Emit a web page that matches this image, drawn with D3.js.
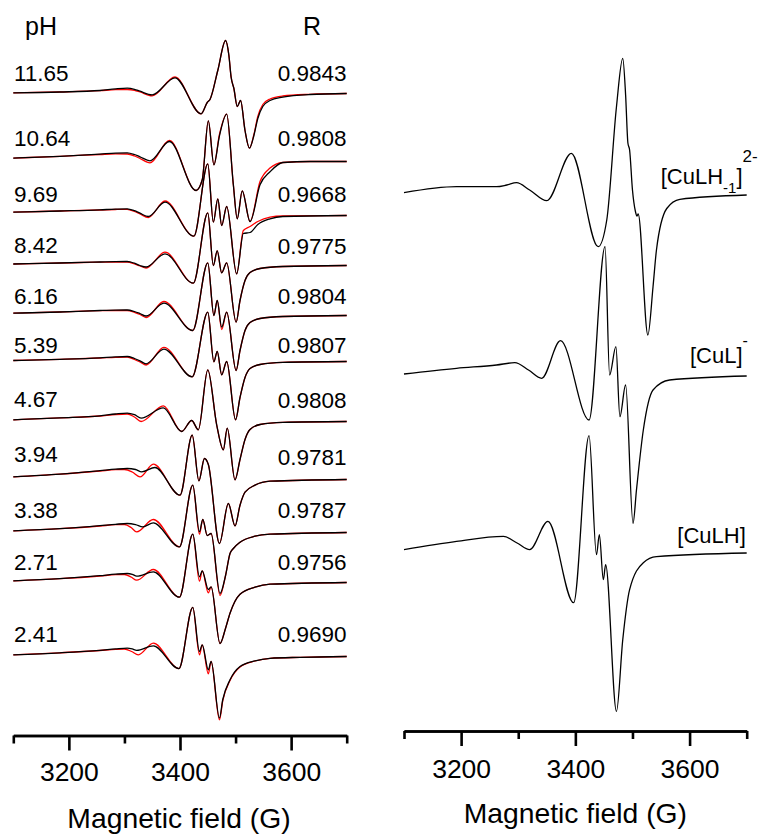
<!DOCTYPE html>
<html><head><meta charset="utf-8">
<script src="https://cdn.jsdelivr.net/npm/d3@7"></script>
<style>
body{margin:0;background:#fff}
svg{display:block}
text{font-family:"Liberation Sans",Arial,Helvetica,sans-serif;fill:#000}
</style>
</head><body>
<svg id="chart" width="766" height="834"></svg>
<script>
// ---------------- DATA ----------------
const fieldDomain = [3100, 3700];
const majorTicks = [3200, 3400, 3600];
const minorTicks = [3100, 3300, 3500, 3700];
const axisTitle = "Magnetic field (G)";

const pHValues = ["11.65", "10.64", "9.69", "8.42", "6.16", "5.39", "4.67", "3.94", "3.38", "2.71", "2.41"];
const RValues  = ["0.9843", "0.9808", "0.9668", "0.9775", "0.9804", "0.9807", "0.9808", "0.9781", "0.9787", "0.9756", "0.9690"];
const stackOffsets = [642, 574, 520, 470, 420, 374, 314, 256, 203, 153, 79];

// measured (black) and simulated (red) spectra: [field G, intensity a.u.]
const exp_1165 = [[3100,0.7],[3184,1.5],[3256,3],[3284,4.6],[3305,5.3],[3318,4.2],[3328,2.3],[3350,-1.3],[3391,15.7],[3438,-20.3],[3449,-9],[3454,-6],[3468,23],[3482,53],[3488,38],[3492,16.3],[3497,5],[3503,-13],[3509,-7],[3517,-37],[3525,-54.7],[3533,-42],[3540,-25],[3549,-13],[3562,-7],[3585,-3.7],[3634,-1],[3700,0]];
const sim_1165 = [[3100,0.7],[3184,1.5],[3256,2.8],[3284,3.8],[3305,4],[3318,3.2],[3328,1.5],[3350,-2.3],[3391,16.5],[3438,-20.3],[3449,-9],[3454,-6],[3468,23],[3482,53],[3488,38],[3492,16.3],[3497,5],[3503,-13],[3509,-7],[3517,-37],[3525,-54.7],[3533,-41],[3540,-23],[3549,-11],[3562,-5.5],[3585,-2.5],[3634,-0.8],[3700,0]];

const exp_1064 = [[3100,3.4],[3184,5.2],[3256,7.4],[3284,8.4],[3305,8.7],[3318,7],[3328,4.7],[3346,0.7],[3381,20],[3429,-29],[3440,-18.3],[3451,40.7],[3461,-3.3],[3471,25.7],[3484,47.4],[3496,-23.3],[3503,-57.3],[3512,-29.3],[3526,-60],[3544,-23.3],[3562,-10.3],[3585,-1],[3634,0],[3700,0]];
const sim_1064 = [[3100,3.4],[3184,5.2],[3256,7],[3284,7.6],[3305,7.5],[3318,5.6],[3328,3],[3346,-1.3],[3381,21],[3429,-29],[3440,-18.3],[3451,40.7],[3461,-3.3],[3471,27],[3484,47.4],[3496,-23.3],[3503,-57.3],[3512,-29.3],[3526,-60],[3544,-20],[3562,-6.6],[3585,-1],[3634,0],[3700,0]];

const exp_969 = [[3100,3.3],[3184,4.5],[3256,5.7],[3284,6.4],[3305,6.7],[3318,4.8],[3328,2.3],[3343,-1],[3373,13.3],[3425,-20.7],[3450,51.7],[3460,-6.7],[3468,16.7],[3475,-10],[3484,9],[3502,-58.3],[3514,-18],[3526,-17],[3540,-9],[3562,-3.3],[3585,-1],[3700,0]];
const sim_969 = [[3100,3.3],[3184,4.5],[3256,5.5],[3284,6],[3305,6.2],[3318,4],[3328,1.5],[3343,-2],[3373,14.5],[3425,-20.7],[3450,51.7],[3460,-6.7],[3468,16.7],[3475,-10],[3484,9],[3502,-58.3],[3514,-15],[3526,-11],[3540,-6],[3562,-1.7],[3585,-0.5],[3700,0]];

const exp_842 = [[3100,1.5],[3184,2.5],[3256,3.5],[3284,3.9],[3305,4],[3318,2.3],[3328,0],[3339,-1.5],[3373,11.7],[3424,-17.7],[3450,52.7],[3460,0],[3467,14.7],[3475,-7.3],[3484,2.7],[3501,-56.7],[3508,-35],[3517,-15],[3526,-7],[3544,-3],[3585,-1],[3700,0]];
const sim_842 = [[3100,1.5],[3184,2.5],[3256,3.3],[3284,3.5],[3305,3.5],[3318,1.6],[3328,-0.5],[3339,-2.5],[3373,13.3],[3424,-17.7],[3450,52.7],[3460,0],[3467,14.7],[3475,-7.3],[3484,2.7],[3501,-56.7],[3508,-35],[3517,-15],[3526,-7],[3544,-3],[3585,-1],[3700,0]];

const exp_616 = [[3100,2.3],[3184,3.5],[3256,5],[3284,5.4],[3305,5.5],[3318,4],[3328,2],[3339,-0.5],[3371,12.3],[3423,-15],[3450,52.7],[3461,0],[3467,15],[3475,-11.7],[3484,3.3],[3501,-55],[3508,-35],[3517,-15],[3526,-7],[3544,-3],[3585,-1],[3700,0]];
const sim_616 = [[3100,2.3],[3184,3.5],[3256,4.8],[3284,5],[3305,5],[3318,3.2],[3328,1],[3339,-2],[3371,14],[3423,-15],[3450,52.7],[3461,0],[3467,15],[3475,-14],[3484,3.3],[3501,-55],[3508,-35],[3517,-15],[3526,-7],[3544,-3],[3585,-1],[3700,0]];

const exp_539 = [[3100,1],[3184,2.2],[3256,3.7],[3284,4.6],[3305,5],[3318,3],[3328,0.7],[3339,-2.3],[3371,12.4],[3422,-15.3],[3450,49.4],[3461,-0.3],[3467,10],[3475,-13.3],[3484,0],[3500,-58.3],[3508,-36],[3517,-16],[3526,-7],[3544,-3],[3585,-0.8],[3700,0]];
const sim_539 = [[3100,1],[3184,2.2],[3256,3.5],[3284,4.2],[3305,4.5],[3318,2],[3328,-0.5],[3339,-3.5],[3371,14.2],[3422,-15.3],[3450,49.4],[3461,-0.3],[3467,10],[3475,-13.3],[3484,0],[3500,-58.3],[3508,-36],[3517,-16],[3526,-7],[3544,-3],[3585,-0.8],[3700,0]];

const exp_467 = [[3100,1.7],[3184,3.7],[3256,5.7],[3284,7.5],[3305,8.4],[3318,6.8],[3330,3.4],[3370,13.7],[3403,-10],[3421,1],[3433,-8.3],[3450,51.7],[3466,-3.3],[3478,-28.3],[3485,-6.6],[3499,-58.3],[3508,-38],[3517,-18],[3526,-8],[3544,-3],[3585,-0.8],[3700,0]];
const sim_467 = [[3100,1.7],[3184,3.7],[3256,5.5],[3284,7],[3305,7.5],[3318,4.5],[3330,0],[3370,15.7],[3403,-10],[3421,1],[3433,-8.3],[3450,51.7],[3466,-3.3],[3478,-28.3],[3485,-6.6],[3499,-58.3],[3508,-38],[3517,-18],[3526,-8],[3544,-3],[3585,-0.8],[3700,0]];

const exp_394 = [[3100,2.6],[3184,5.3],[3256,8.8],[3284,10.3],[3305,11],[3320,10],[3331,7.6],[3355,12],[3400,-15.7],[3422,44.3],[3434,-1.4],[3444,21],[3451,15],[3471,-64],[3487,-24],[3499,-46.4],[3508,-25.7],[3517,-12.7],[3535,-5.7],[3562,-1.7],[3700,0]];
const sim_394 = [[3100,2.6],[3184,5.3],[3256,8.5],[3284,9.8],[3300,10],[3314,7.5],[3328,2.6],[3352,15.3],[3400,-15.7],[3422,44.3],[3434,-1.4],[3444,21],[3451,15],[3471,-64],[3487,-24],[3499,-46.4],[3508,-25.7],[3517,-12.7],[3535,-5.7],[3562,-1.7],[3700,0]];

const exp_338 = [[3100,1.6],[3184,3.8],[3256,6.8],[3284,8.2],[3305,9],[3320,7.9],[3333,5.6],[3352,9.6],[3399,-14.4],[3423,47.3],[3435,0.6],[3441,13],[3449,-3],[3456,-1],[3472,-61],[3482,-43],[3490,-21],[3496,-16],[3508,-9.7],[3535,-3.7],[3562,-1.7],[3700,0]];
const sim_338 = [[3100,1.6],[3184,3.8],[3256,6.5],[3284,7.8],[3300,8],[3312,5],[3322,0.6],[3352,13],[3399,-14.4],[3423,47.3],[3435,-1.7],[3441,13],[3449,-3],[3456,-1],[3472,-63],[3482,-43],[3490,-21],[3496,-16],[3508,-9.7],[3535,-3.7],[3562,-1.7],[3700,0]];

const exp_271 = [[3100,1.6],[3184,3.8],[3256,6.8],[3284,8.3],[3305,9],[3314,8.2],[3322,6.3],[3352,10.6],[3399,-14.7],[3423,48.3],[3435,5.6],[3440,11.6],[3451,-7],[3456,-4.4],[3472,-61],[3482,-45.7],[3490,-30.7],[3508,-11.7],[3535,-4.7],[3562,-1.7],[3700,0]];
const sim_271 = [[3100,1.6],[3184,3.8],[3256,6.5],[3284,7.8],[3300,8],[3312,5.5],[3322,2.3],[3352,13],[3399,-14.7],[3423,48.3],[3435,1.3],[3440,11.6],[3451,-10.4],[3456,-4.4],[3472,-61],[3482,-45.7],[3490,-30.7],[3508,-11.7],[3535,-4.7],[3562,-1.7],[3700,0]];

const exp_241 = [[3100,1.7],[3184,3.7],[3256,6.2],[3284,7.6],[3305,8.4],[3314,7.6],[3322,6.2],[3352,10.7],[3398,-12.1],[3423,49.2],[3435,5],[3440,11.7],[3451,-13.3],[3456,-5],[3471,-61.6],[3477,-43],[3490,-23.3],[3508,-10],[3535,-4.3],[3562,-1.8],[3616,-0.8],[3700,0]];
const sim_241 = [[3100,1.7],[3184,3.7],[3256,6],[3284,7.2],[3300,7.5],[3313,5],[3325,1.7],[3352,13.4],[3398,-12.1],[3423,49.2],[3435,1.7],[3440,11.7],[3451,-17.3],[3456,-5],[3471,-63.3],[3477,-44],[3490,-24],[3508,-10.5],[3535,-4.5],[3562,-1.8],[3616,-0.8],[3700,0]];

// Right panel: simulated spectra of individual species
const speciesOffsets = [536, 355, 178];
const sp_CuLH_1 = [[3100,2.3],[3192,8.3],[3262,8.3],[3280,10],[3297,12.3],[3320,5],[3350,-5.7],[3393,41.7],[3440,-51.7],[3455,-25],[3472,88.3],[3483,136.7],[3488,100],[3492,52],[3495,45],[3500,5],[3505,-16],[3508,-21],[3510,-19],[3527,-140],[3536,-91.7],[3542,-55],[3560,-13.5],[3583,-4.3],[3700,0]];
const sp_CuL = [[3100,2],[3192,7.7],[3262,11],[3294,13.3],[3318,6],[3341,-2.3],[3374,35.3],[3424,-44],[3452,129.3],[3460,1],[3471,29.3],[3478,-40.7],[3488,-9],[3501,-147.3],[3507,-114],[3519,-54],[3536,-14],[3565,-4],[3700,0]];
const sp_CuLH = [[3100,3.3],[3192,11.6],[3274,16.6],[3298,10],[3320,3.3],[3352,31.6],[3397,-49.7],[3424,117.3],[3437,-1.7],[3442,18.3],[3449,-26.7],[3453,-11.7],[3472,-158.4],[3483,-86.7],[3495,-36.7],[3519,-9.7],[3542,-3.7],[3700,0]];

const measured = [exp_1165, exp_1064, exp_969, exp_842, exp_616, exp_539, exp_467, exp_394, exp_338, exp_271, exp_241];
const simulated = [sim_1165, sim_1064, sim_969, sim_842, sim_616, sim_539, sim_467, sim_394, sim_338, sim_271, sim_241];
const speciesSpectra = [sp_CuLH_1, sp_CuL, sp_CuLH];

// ---------------- LAYOUT ----------------
const svg = d3.select("#chart");
const FONT = '"Liberation Sans",Arial,Helvetica,sans-serif';

const xL = d3.scaleLinear().domain(fieldDomain).range([13.3, 346.7]);
const xR = d3.scaleLinear().domain(fieldDomain).range([404, 746.7]);
const yL = d3.scaleLinear().domain([0, 700]).range([735.5, 35.5]);
const yR = d3.scaleLinear().domain([0, 700]).range([731, 31]);

function spectrum(g, x, y, data, off, color, w) {
  const line = d3.line()
    .x(d => x(d[0]))
    .y(d => y(d[1] + off))
    .curve(d3.curveMonotoneX);
  g.append("path").attr("d", line(data))
    .attr("fill", "none").attr("stroke", color)
    .attr("stroke-width", w).attr("stroke-linejoin", "round");
}

const gL = svg.append("g");
simulated.forEach((s, i) => spectrum(gL, xL, yL, s, stackOffsets[i], "#ff0000", 1.3));
measured.forEach((s, i) => spectrum(gL, xL, yL, s, stackOffsets[i], "#000", 1.3));

const gR = svg.append("g");
speciesSpectra.forEach((s, i) => spectrum(gR, xR, yR, s, speciesOffsets[i], "#000", 1.3));

function drawAxis(x, yPos, labelShift) {
  const g = svg.append("g").attr("transform", `translate(0,${yPos})`);
  g.call(d3.axisBottom(x).tickValues(minorTicks).tickSize(8).tickSizeOuter(0).tickFormat(""));
  const g2 = svg.append("g").attr("transform", `translate(0,${yPos})`);
  g2.call(d3.axisBottom(x).tickValues(majorTicks).tickSize(15).tickSizeOuter(0).tickFormat(d3.format("d")));
  [g, g2].forEach(gg => {
    gg.select(".domain").attr("stroke", "#000").attr("stroke-width", 2.6);
    gg.selectAll(".tick line").attr("stroke", "#000").attr("stroke-width", 2.6);
  });
  g2.selectAll(".tick text")
    .attr("y", labelShift).attr("dy", 0)
    .style("font-family", FONT).style("font-size", "26.5px").attr("fill", "#000");
}
drawAxis(xL, 735.5, 45.5);
drawAxis(xR, 731, 47);

svg.append("text").attr("x", xL(3400) - 1).attr("y", 827.5).attr("text-anchor", "middle")
  .style("font-size", "28.3px").text(axisTitle);
svg.append("text").attr("x", xR(3400)).attr("y", 822.5).attr("text-anchor", "middle")
  .style("font-size", "28.3px").text(axisTitle);

svg.append("text").attr("x", 25).attr("y", 35).style("font-size", "25px").text("pH");
svg.append("text").attr("x", 303).attr("y", 35).style("font-size", "25px").text("R");

const pHLabelY = [81, 146, 202, 253, 304, 353, 407, 462, 518, 570, 642];
const RLabelY  = [81, 146, 202, 254, 304, 353, 408, 465, 518, 570, 642];
pHValues.forEach((v, i) => {
  svg.append("text").attr("x", 14).attr("y", pHLabelY[i]).style("font-size", "22.5px").text(v);
});
RValues.forEach((v, i) => {
  svg.append("text").attr("x", 346.5).attr("y", RLabelY[i]).attr("text-anchor", "end").style("font-size", "22.5px").text(v);
});

const t1 = svg.append("text").attr("x", 660.7).attr("y", 184).style("font-size", "22px");
t1.append("tspan").text("[CuLH");
t1.append("tspan").attr("dy", 9).style("font-size", "15px").text("-1");
t1.append("tspan").attr("dy", -9).text("]");
t1.append("tspan").attr("dy", -22).style("font-size", "17px").text("2-");

const t2 = svg.append("text").attr("x", 690).attr("y", 362.7).style("font-size", "22px");
t2.append("tspan").text("[CuL]");
t2.append("tspan").attr("dy", -17).style("font-size", "16px").text("-");

svg.append("text").attr("x", 677.3).attr("y", 543.3).style("font-size", "22px").text("[CuLH]");
</script>
</body></html>
